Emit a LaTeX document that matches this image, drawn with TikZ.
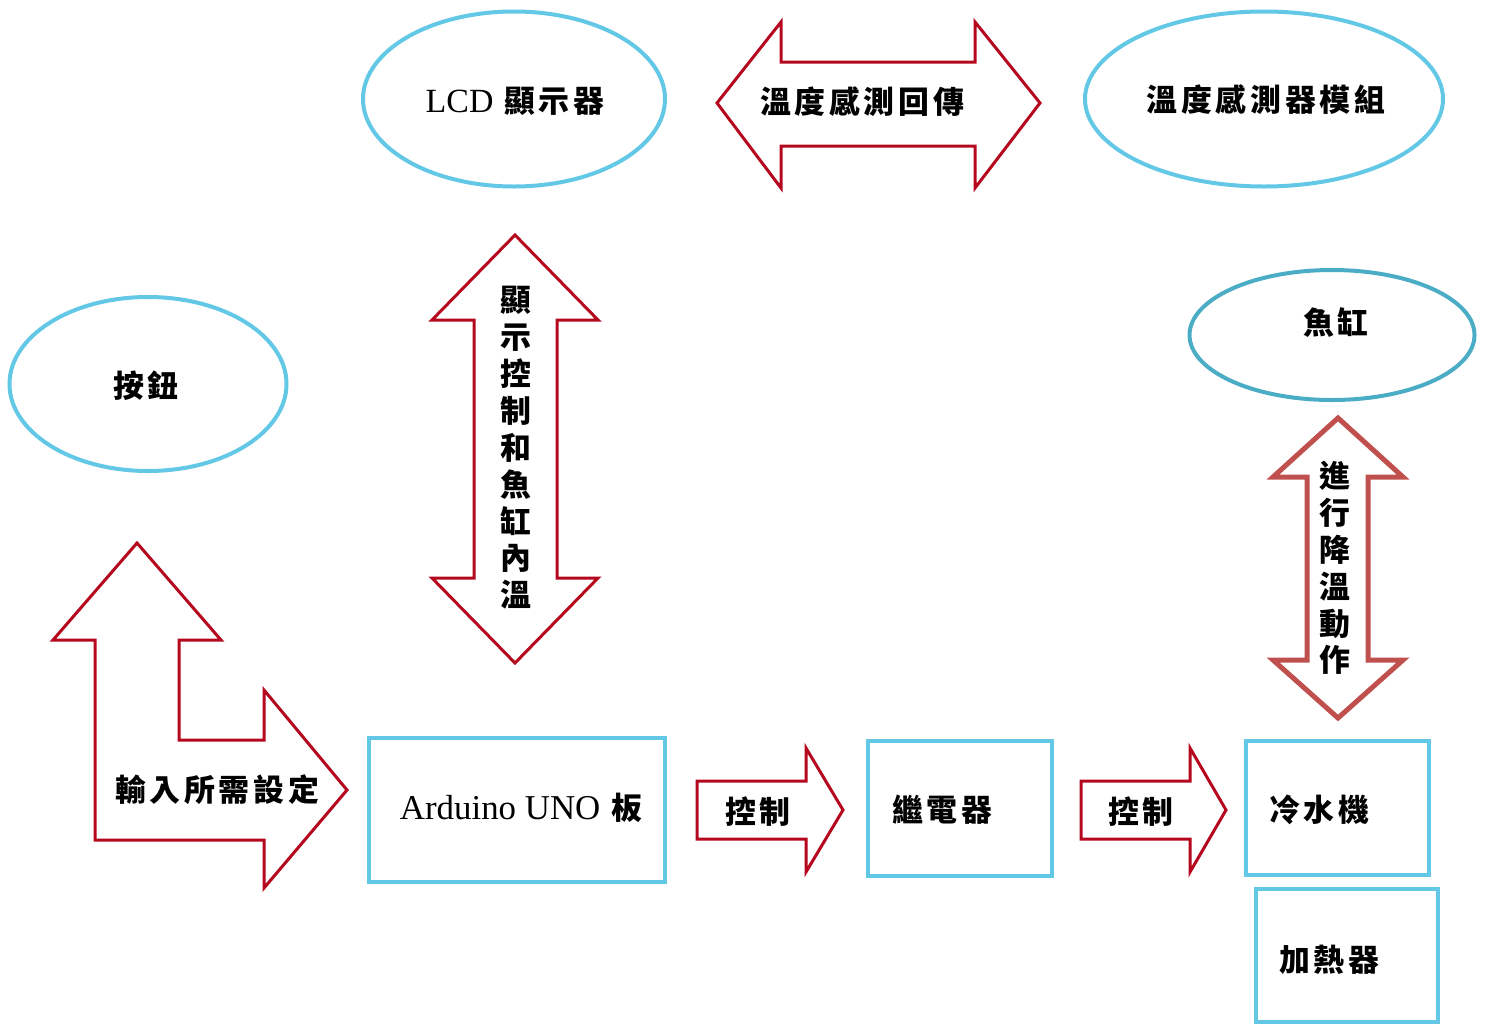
\documentclass[tikz,border=0pt]{standalone}
\usepackage{fontspec}
\setmainfont{Liberation Serif}
\newfontfamily\cjk[LetterSpace=12]{Noto Sans CJK TC}
\usetikzlibrary{shapes.geometric}
\definecolor{lblue}{HTML}{62C8E6}
\definecolor{teal}{HTML}{4BACC6}
\definecolor{dred}{HTML}{B5081E}
\definecolor{lred}{HTML}{C0504D}
\begin{document}
\begin{tikzpicture}[x=1bp,y=-1bp,
  oval/.style={ellipse,draw=lblue,line width=4bp,inner sep=0pt},
  boxst/.style={draw=lblue,line width=4bp,inner sep=0pt},
  arr/.style={draw=dred,line width=3bp,line join=miter},
  lbl/.style={font=\cjk\bfseries\fontsize{31}{37}\selectfont,inner sep=0pt},
  vlbl/.style={font=\cjk\bfseries\fontsize{31}{37}\selectfont,inner sep=0pt,align=center}]
\useasboundingbox (0,0) rectangle (1490,1026);
% ellipses
\node[oval,minimum width=302bp,minimum height=175bp] (lcd) at (514,99) {};
\node[lbl] at (515,101) {{\rmfamily\mdseries\fontsize{34}{36}\selectfont LCD} 顯示器};
\node[oval,minimum width=358bp,minimum height=175bp] (sensor) at (1264,99) {};
\node[lbl] at (1266,100) {溫度感測器模組};
\node[oval,minimum width=277bp,minimum height=174bp] (btn) at (148,384) {};
\node[lbl] at (146,386) {按鈕};
\node[oval,draw=teal,minimum width=285bp,minimum height=130bp] (tank) at (1332,335) {};
\node[lbl] at (1336,323) {魚缸};
% boxes
\node[boxst,minimum width=296bp,minimum height=144bp] (uno) at (517,810) {};
\node[lbl] at (521,808) {{\rmfamily\mdseries\fontsize{35}{36}\selectfont Arduino UNO} 板};
\node[boxst,minimum width=184bp,minimum height=135bp] (relay) at (960,808.5) {};
\node[lbl,anchor=west] at (892,810) {繼電器};
\node[boxst,minimum width=183bp,minimum height=134bp] (chiller) at (1337.5,808) {};
\node[lbl,anchor=west] at (1269,810) {冷水機};
\node[boxst,minimum width=182bp,minimum height=133bp] (heater) at (1347,955.5) {};
\node[lbl,anchor=west] at (1279,960) {加熱器};
% horizontal double arrow
\draw[arr] (717,103) -- (781,22) -- (781,62) -- (975,62) -- (975,22) -- (1040,103)
  -- (975,188) -- (975,146) -- (781,146) -- (781,188) -- cycle;
\node[lbl] (tx) at (862,102) {溫度感測回傳};
% vertical double arrow (display)
\draw[arr] (515,235) -- (598,320) -- (557,320) -- (557,578) -- (598,578) -- (515,663)
  -- (432,578) -- (474,578) -- (474,320) -- (432,320) -- cycle;
\node[vlbl] (disp) at (516,448) {顯\\示\\控\\制\\和\\魚\\缸\\內\\溫};
% vertical double arrow (cooling)
\draw[arr,draw=lred,line width=5bp] (1338,418) -- (1403,477) -- (1368,477) -- (1368,660) -- (1403,660) -- (1338,718)
  -- (1273,660) -- (1307,660) -- (1307,477) -- (1273,477) -- cycle;
\node[vlbl] (cool) at (1335,568) {進\\行\\降\\溫\\動\\作};
% L arrow
\draw[arr] (137,543) -- (221,640) -- (179,640) -- (179,740) -- (264,740) -- (264,690) -- (347,790)
  -- (264,888) -- (264,840) -- (95,840) -- (95,640) -- (53,640) -- cycle;
\node[lbl] (inp) at (217,790) {輸入所需設定};
% control arrows
\draw[arr] (697,781) -- (806,781) -- (806,748) -- (843,810) -- (806,872) -- (806,839) -- (697,839) -- cycle;
\node[lbl] (c1) at (758,812) {控制};
\draw[arr] (1081,781) -- (1190,781) -- (1190,748) -- (1226,810) -- (1190,872) -- (1190,839) -- (1081,839) -- cycle;
\node[lbl] (c2) at (1141,812) {控制};
\end{tikzpicture}
\end{document}
